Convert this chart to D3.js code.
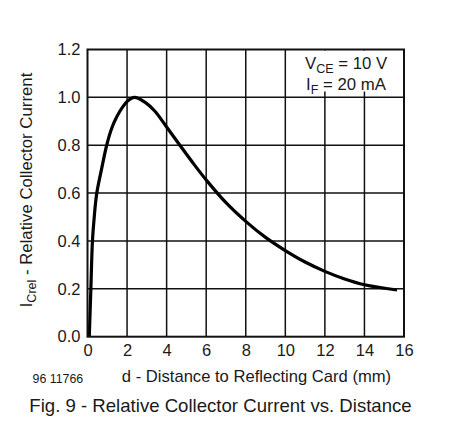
<!DOCTYPE html>
<html><head><meta charset="utf-8">
<script src="https://cdn.jsdelivr.net/npm/d3@7"></script>
<style>
html,body{margin:0;padding:0;background:#fff;}
svg{display:block;font-family:"Liberation Sans",Arial,Helvetica,sans-serif;}
</style></head>
<body>
<svg id="c" width="450" height="442"></svg>
<script>
// Data
const distance = [0.09, 0.13, 0.17, 0.25, 0.34, 0.47, 0.71, 0.97, 1.22, 1.5, 1.78, 2.03, 2.37, 2.9, 3.41, 4, 4.67, 5.34, 6.05, 7, 8, 9, 10, 11, 12, 13, 14, 15.65];
const relCurrent = [0.0, 0.1, 0.2, 0.4, 0.5, 0.6, 0.7, 0.8, 0.87, 0.922, 0.96, 0.985, 1.0, 0.98, 0.942, 0.876, 0.8, 0.725, 0.65, 0.56, 0.482, 0.415, 0.36, 0.312, 0.273, 0.241, 0.217, 0.195];
const xTicks = [0, 2, 4, 6, 8, 10, 12, 14, 16];
const yTicks = [0.0, 0.2, 0.4, 0.6, 0.8, 1.0, 1.2];

const svg = d3.select("#c");
svg.append("rect").attr("width",450).attr("height",442).attr("fill","#fff");

const x = d3.scaleLinear().domain([0,16]).range([87.5,404]);
const y = d3.scaleLinear().domain([0,1.2]).range([336.7,49.5]);

// grid
const g = svg.append("g");
g.selectAll("line.vx").data(xTicks.slice(1,-1)).join("line")
  .attr("x1",d=>x(d)).attr("x2",d=>x(d)).attr("y1",y(1.2)).attr("y2",y(0))
  .attr("stroke","#111").attr("stroke-width",1.5);
g.selectAll("line.hy").data(yTicks.slice(1,-1)).join("line")
  .attr("x1",x(0)).attr("x2",x(16)).attr("y1",d=>y(d)).attr("y2",d=>y(d))
  .attr("stroke","#111").attr("stroke-width",1.5);

// annotation background
svg.append("rect").attr("x",300).attr("y",y(1.2)+1).attr("width",x(16)-301).attr("height",41).attr("fill","#fff");

// curve
const pts = distance.map((d,i)=>[d, relCurrent[i]]);
svg.append("path").datum(pts)
  .attr("d", d3.line().x(d=>x(d[0])).y(d=>y(d[1])).curve(d3.curveCatmullRom.alpha(0.5)))
  .attr("fill","none").attr("stroke","#000").attr("stroke-width",3.2)
  .attr("stroke-linecap","butt");

// frame
svg.append("rect").attr("x",x(0)).attr("y",y(1.2)).attr("width",x(16)-x(0)).attr("height",y(0)-y(1.2))
  .attr("fill","none").attr("stroke","#111").attr("stroke-width",2);

// axes labels via d3 axes (no lines)
const xAxis = svg.append("g").attr("transform",`translate(0,${y(0)})`)
  .call(d3.axisBottom(x).tickValues(xTicks).tickFormat(d3.format("d")).tickSize(0).tickPadding(8));
xAxis.select(".domain").remove();
xAxis.selectAll("text").attr("font-size",16.5).attr("fill","#1a1a1a").attr("font-family","Liberation Sans, Arial, sans-serif");

const yAxis = svg.append("g").attr("transform",`translate(${x(0)},0)`)
  .call(d3.axisLeft(y).tickValues(yTicks).tickFormat(d3.format(".1f")).tickSize(0).tickPadding(7));
yAxis.select(".domain").remove();
yAxis.selectAll("text").attr("font-size",16.5).attr("fill","#1a1a1a").attr("font-family","Liberation Sans, Arial, sans-serif");

// x title
svg.append("text").attr("x",256.5).attr("y",382).attr("text-anchor","middle")
  .attr("font-size",16.6).attr("fill","#1a1a1a").text("d - Distance to Reflecting Card (mm)");
svg.append("text").attr("x",32.5).attr("y",383).attr("font-size",12.4).attr("fill","#1a1a1a").text("96 11766");

// y title
const yt = svg.append("text").attr("transform","translate(32,190) rotate(-90)")
  .attr("text-anchor","middle").attr("font-size",16.8).attr("fill","#1a1a1a");
yt.append("tspan").text("I");
yt.append("tspan").attr("font-size",12.5).attr("dy",4).text("Crel");
yt.append("tspan").attr("dy",-4).text(" - Relative Collector Current");

// annotation
const a1 = svg.append("text").attr("x",305).attr("y",69).attr("font-size",16.8).attr("fill","#1a1a1a");
a1.append("tspan").text("V");
a1.append("tspan").attr("font-size",12.5).attr("dy",4).text("CE");
a1.append("tspan").attr("dy",-4).text(" = 10 V");
const a2 = svg.append("text").attr("x",306).attr("y",90).attr("font-size",16.8).attr("fill","#1a1a1a");
a2.append("tspan").text("I");
a2.append("tspan").attr("font-size",12.5).attr("dy",4).text("F");
a2.append("tspan").attr("dy",-4).text(" = 20 mA");

// caption
svg.append("text").attr("x",220.5).attr("y",412).attr("text-anchor","middle")
  .attr("font-size",18.6).attr("fill","#1a1a1a").text("Fig. 9 - Relative Collector Current vs. Distance");
</script>
</body></html>
